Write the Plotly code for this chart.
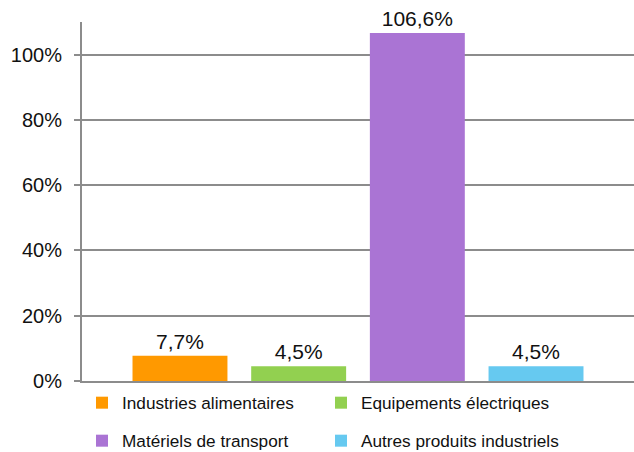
import plotly.graph_objects as go

categories = ["Industries alimentaires", "Equipements électriques",
              "Matériels de transport", "Autres produits industriels"]
values = [7.7, 4.5, 106.6, 4.5]
colors = ["#FF9900", "#92D050", "#AA74D4", "#66C9F0"]
legend_ids = ["legend", "legend", "legend2", "legend2"]
y_ticks = [0, 20, 40, 60, 80, 100]
y_tick_labels = [f"{t}%" for t in y_ticks]

FONT = "Liberation Sans, Arial, sans-serif"

fig = go.Figure()
for name, v, c, lg in zip(categories, values, colors, legend_ids):
    fig.add_trace(go.Bar(
        x=[""], y=[v], name=name, marker_color=c, marker_line_width=0,
        text=[f"{v:.1f}%".replace(".", ",")], textposition="outside",
        textfont=dict(size=21, color="#111111", family=FONT),
        cliponaxis=False, legend=lg,
    ))

leg_common = dict(orientation="h", xref="container", yref="container",
                  xanchor="left", yanchor="middle", bgcolor="rgba(0,0,0,0)",
                  font=dict(size=17.2, color="#111111", family=FONT),
                  entrywidth=194, itemwidth=30, traceorder="normal")

fig.update_layout(
    width=634, height=452,
    margin=dict(l=82, r=0, t=22, b=71, autoexpand=False),
    paper_bgcolor="white", plot_bgcolor="white",
    font=dict(family=FONT, color="#111111"),
    barmode="group", bargap=0.14, bargroupgap=0.2,
    legend=dict(x=82/634, y=1 - 403/452, **leg_common),
    legend2=dict(x=82/634, y=1 - 441/452, **leg_common),
    yaxis=dict(range=[0, 110], tickvals=y_ticks, ticktext=y_tick_labels,
               tickfont=dict(size=20, color="#111111"), ticklabelstandoff=8,
               showgrid=True, gridcolor="#8C8C8C", gridwidth=1.5,
               showline=True, linecolor="#8C8C8C", linewidth=2,
               ticks="outside", ticklen=6, tickcolor="#8C8C8C", tickwidth=1.5,
               zeroline=False, automargin=False),
    xaxis=dict(showticklabels=False, showline=True, linecolor="#8C8C8C",
               linewidth=2, ticks="", showgrid=False, automargin=False),
)

fig.write_html("out.html")
